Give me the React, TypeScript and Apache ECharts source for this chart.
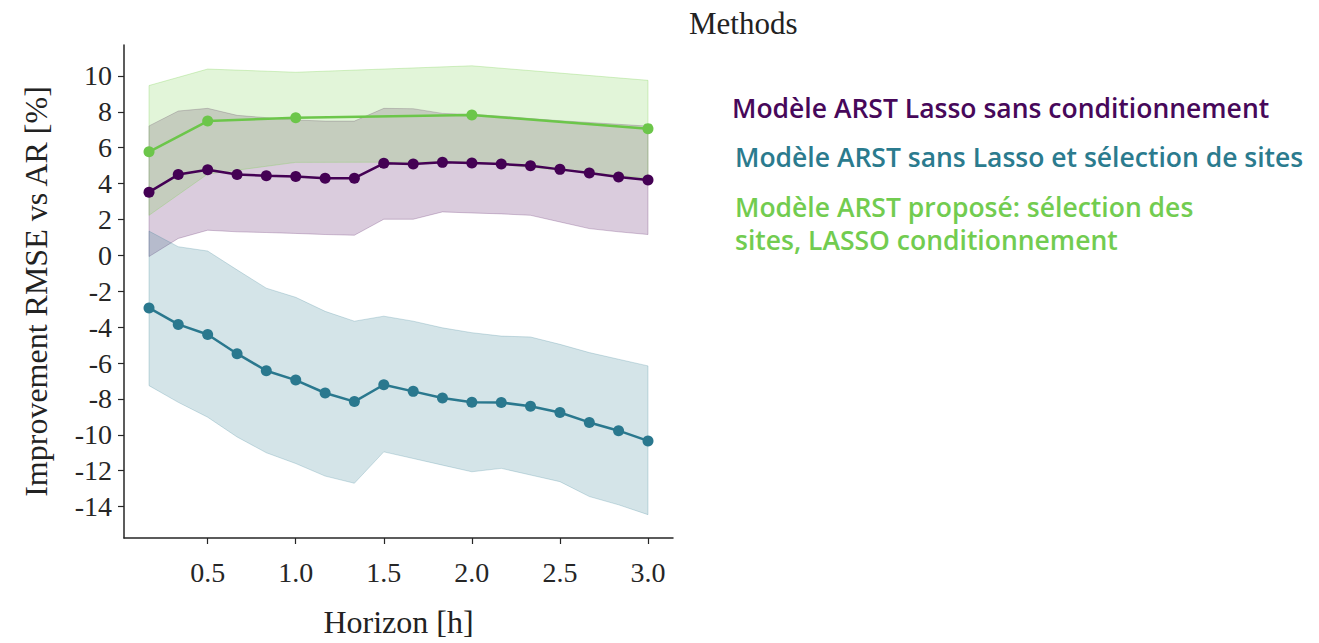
import React, { useEffect, useRef } from "react";
import * as echarts from "echarts";

// Horizon values (h)
const horizons = [0.167, 0.333, 0.5, 0.667, 0.833, 1.0, 1.167, 1.333, 1.5, 1.667, 1.833, 2.0, 2.167, 2.333, 2.5, 2.667, 2.833, 3.0];
const greenHorizons = [0.167, 0.5, 1.0, 2.0, 3.0];

// Modèle ARST Lasso sans conditionnement (purple)
const purpleMean = [3.52, 4.5, 4.77, 4.5, 4.44, 4.39, 4.3, 4.3, 5.13, 5.09, 5.18, 5.14, 5.09, 4.99, 4.79, 4.59, 4.37, 4.2];
const purpleHi = [7.21, 8.04, 8.19, 7.8, 7.67, 7.54, 7.48, 7.48, 8.19, 8.17, 7.91, 7.85, 7.75, 7.62, 7.5, 7.4, 7.3, 7.2];
const purpleLo = [-0.07, 0.94, 1.4, 1.31, 1.27, 1.22, 1.16, 1.12, 2.01, 2.01, 2.42, 2.36, 2.31, 2.23, 1.86, 1.49, 1.31, 1.16];

// Modèle ARST sans Lasso et sélection de sites (teal)
const tealMean = [-2.93, -3.85, -4.41, -5.48, -6.43, -6.95, -7.67, -8.15, -7.21, -7.58, -7.95, -8.19, -8.2, -8.41, -8.76, -9.31, -9.77, -10.34];
const tealHi = [1.35, 0.48, 0.24, -0.81, -1.83, -2.34, -3.12, -3.67, -3.39, -3.67, -4.04, -4.31, -4.5, -4.55, -4.96, -5.42, -5.79, -6.16];
const tealLo = [-7.26, -8.19, -9.02, -10.12, -11.0, -11.6, -12.3, -12.7, -10.95, -11.32, -11.69, -12.06, -11.87, -12.24, -12.61, -13.44, -13.9, -14.45];

// Modèle ARST proposé (green)
const greenMean = [5.77, 7.48, 7.67, 7.82, 7.06];
const greenHi = [9.46, 10.38, 10.2, 10.56, 9.75];
const greenLo = [2.23, 4.53, 5.18, 5.2, 4.3];

const xTicks = [0.5, 1.0, 1.5, 2.0, 2.5, 3.0];
const yTicks = [-14, -12, -10, -8, -6, -4, -2, 0, 2, 4, 6, 8, 10];

const legendTitle = "Methods";
const legendLines = [
  { text: "Modèle ARST Lasso sans conditionnement", color: "#47085a" },
  { text: "Modèle ARST sans Lasso et sélection de sites", color: "#2b7b8e" },
  { text: "Modèle ARST proposé: sélection des", color: "#72cc50" },
  { text: "sites, LASSO conditionnement", color: "#72cc50" },
];
const seriesNames = [
  "Modèle ARST Lasso sans conditionnement",
  "Modèle ARST sans Lasso et sélection de sites",
  "Modèle ARST proposé: sélection des sites, LASSO conditionnement",
];

const PURPLE = "#440154";
const TEAL = "#2a788e";
const GREEN = "#6cc64a";

function band(name: string, xs: number[], lo: number[], hi: number[], fill: string, stroke: string) {
  return {
    type: "custom",
    name,
    silent: true,
    z: 1,
    data: xs.map((x, i) => [x, lo[i], hi[i]]),
    renderItem: (params: any, api: any) => {
      if (params.dataIndex !== 0) return null;
      const top = xs.map((x, i) => api.coord([x, hi[i]]));
      const bot = xs.map((x, i) => api.coord([x, lo[i]])).reverse();
      return {
        type: "polygon",
        shape: { points: top.concat(bot) },
        style: { fill, stroke, lineWidth: 1 },
      };
    },
  };
}

function line(name: string, xs: number[], ys: number[], color: string) {
  return {
    type: "line",
    name,
    z: 3,
    data: xs.map((x, i) => [x, ys[i]]),
    symbol: "circle",
    symbolSize: 11,
    lineStyle: { color, width: 2.5 },
    itemStyle: { color },
  };
}

export default function App() {
  const ref = useRef<HTMLDivElement>(null);
  useEffect(() => {
    if (!ref.current) return;
    const chart = echarts.init(ref.current, undefined, { renderer: "svg" });
    const serif = "Liberation Serif";
    const axisCol = "#262626";
    const legendYs = [108, 157, 207, 240];
    const legendXs = [732, 735, 735, 735];
    chart.setOption({
      animation: false,
      backgroundColor: "#fff",
      grid: { left: 124, top: 45, right: 646, bottom: 96, containLabel: false },
      xAxis: {
        type: "value",
        min: 0.025,
        max: 3.142,
        name: "Horizon [h]",
        nameLocation: "middle",
        nameGap: 68,
        nameTextStyle: { fontFamily: serif, fontSize: 32, color: "#222" },
        axisLine: { show: true, onZero: false, lineStyle: { color: axisCol, width: 1.5 } },
        axisTick: { show: true, inside: false, length: 6, customValues: xTicks, lineStyle: { color: axisCol, width: 1.2 } },
        axisLabel: {
          customValues: xTicks,
          formatter: (v: number) => v.toFixed(1),
          fontFamily: serif,
          fontSize: 28,
          color: "#262626",
          margin: 20,
        },
        splitLine: { show: false },
      },
      yAxis: {
        type: "value",
        min: -15.75,
        max: 11.72,
        name: "Improvement RMSE vs AR [%]",
        nameLocation: "middle",
        nameGap: 72,
        nameTextStyle: { fontFamily: serif, fontSize: 32, color: "#222" },
        axisLine: { show: true, onZero: false, lineStyle: { color: axisCol, width: 1.5 } },
        axisTick: { show: true, inside: false, length: 6, customValues: yTicks, lineStyle: { color: axisCol, width: 1.2 } },
        axisLabel: {
          customValues: yTicks,
          formatter: (v: number) => String(v),
          fontFamily: serif,
          fontSize: 28,
          color: "#262626",
          margin: 12,
        },
        splitLine: { show: false },
      },
      series: [
        band("purple band", horizons, purpleLo, purpleHi, "rgba(68,1,84,0.2)", "rgba(68,1,84,0.22)"),
        band("teal band", horizons, tealLo, tealHi, "rgba(42,120,142,0.2)", "rgba(42,120,142,0.22)"),
        band("green band", greenHorizons, greenLo, greenHi, "rgba(122,209,81,0.22)", "rgba(122,209,81,0.3)"),
        line(seriesNames[0], horizons, purpleMean, PURPLE),
        line(seriesNames[1], horizons, tealMean, TEAL),
        line(seriesNames[2], greenHorizons, greenMean, GREEN),
      ],
      graphic: [
        {
          type: "text",
          x: 689,
          y: 23,
          style: { text: legendTitle, fontFamily: serif, fontSize: 31, fill: "#222", verticalAlign: "middle" },
        },
        ...legendLines.map((l, i) => ({
          type: "text",
          x: legendXs[i],
          y: legendYs[i],
          style: {
            text: l.text,
            fontFamily: "Open Sans",
            fontWeight: 600,
            fontSize: 26.5,
            fill: l.color,
            verticalAlign: "middle",
          },
        })),
      ],
    });
    return () => chart.dispose();
  }, []);
  return <div ref={ref} style={{ position: "fixed", left: 0, top: 0, width: 1319, height: 643 }} />;
}
